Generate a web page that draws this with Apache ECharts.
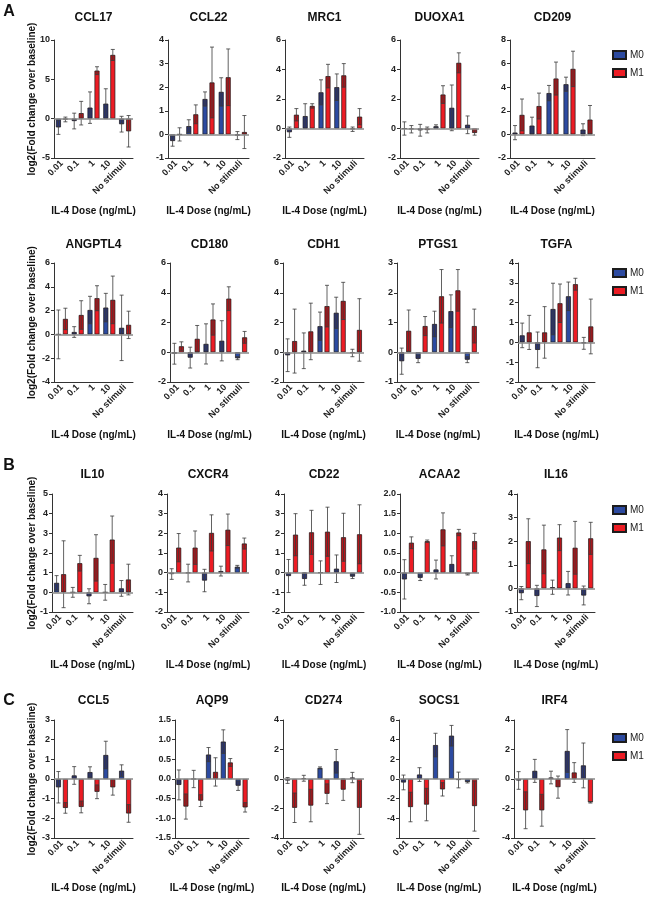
<!DOCTYPE html>
<html>
<head>
<meta charset="utf-8">
<script src="https://cdn.jsdelivr.net/npm/echarts@6/dist/echarts.min.js"></script>
<style>
html,body{margin:0;padding:0;background:#fff;}
#chart{width:648px;height:900px;}
</style>
</head>
<body>
<div id="chart"></div>
<script>
// ---------------- DATA ----------------
const categories = ['0.01', '0.1', '1', '10', 'No stimuli'];
const seriesNames = ['M0', 'M1'];
const genes = ['CCL17','CCL22','MRC1','DUOXA1','CD209',
               'ANGPTL4','CD180','CDH1','PTGS1','TGFA',
               'IL10','CXCR4','CD22','ACAA2','IL16',
               'CCL5','AQP9','CD274','SOCS1','IRF4'];
const panelLetters = ['A', 'B', 'C'];
const xAxisTitle = 'IL-4 Dose (ng/mL)';
const yAxisTitle = 'log2(Fold change over baseline)';

// y axis range per gene
const yMin  = [-5, -1, -2, -2, -2,  -4, -2, -2, -1, -2,  -1, -2, -2, -1, -1,  -3, -1.5, -4, -6, -4];
const yMax  = [10,  4,  6,  6,  8,   6,  6,  6,  3,  4,   5,  4,  4,  2,  4,   3,  1.5,  4,  6,  4];
const yStep = [ 5,  1,  2,  2,  2,   2,  2,  2,  1,  1,   1,  1,  1, 0.5, 1,  1,  0.5,  2,  2,  2];
const hideMinLabel = ['SOCS1'];

// M0 means (one row per gene, columns = categories)
const m0Mean = [
  [-1.1, -0.3, 1.4, 1.9, -0.7],    // CCL17
  [-0.28, 0.35, 1.5, 1.8, -0.05],  // CCL22
  [-0.25, 0.84, 2.45, 2.8, -0.05], // MRC1
  [0.0, -0.12, 0.15, 1.4, 0.25],   // DUOXA1
  [0.15, 0.74, 3.5, 4.25, 0.4],    // CD209
  [0.0, 0.2, 2.05, 2.25, 0.55],    // ANGPTL4
  [-0.1, -0.36, 0.56, 0.77, -0.4], // CD180
  [-0.2, 0.1, 1.75, 2.65, -0.05],  // CDH1
  [-0.3, -0.22, 0.95, 1.38, -0.25],// PTGS1
  [0.35, -0.38, 1.68, 2.32, -0.05],// TGFA
  [0.48, 0.0, -0.2, 0.0, 0.2],     // IL10
  [-0.07, -0.02, -0.4, 0.08, 0.3], // CXCR4
  [-0.17, -0.32, 0.0, 0.2, -0.2],  // CD22
  [-0.17, -0.13, 0.08, 0.22, -0.04],// ACAA2
  [-0.2, -0.32, 0.05, 0.22, -0.3], // IL16
  [-0.42, 0.18, 0.35, 1.22, 0.42], // CCL5
  [-0.15, 0.0, 0.62, 0.95, -0.17], // AQP9
  [-0.1, 0.05, 0.75, 1.2, 0.1],    // CD274
  [-0.35, 0.45, 3.45, 4.4, -0.3],  // SOCS1
  [-0.1, 0.55, 0.1, 1.9, 0.92]     // IRF4
];
const m0Sd = [
  [0.9, 1.0, 2.0, 1.9, 1.0],
  [0.22, 0.27, 0.3, 0.6, 0.17],
  [0.35, 0.84, 0.85, 0.9, 0.15],
  [0.45, 0.4, 0.1, 1.55, 0.6],
  [0.6, 0.72, 0.65, 0.6, 0.5],
  [2.05, 0.45, 1.15, 1.2, 2.75],
  [0.7, 0.7, 1.35, 1.35, 0.1],
  [1.1, 1.2, 0.95, 1.05, 0.25],
  [0.44, 0.13, 0.43, 0.55, 0.1],
  [0.62, 0.9, 1.3, 0.72, 0.3],
  [0.37, 0.25, 0.38, 0.4, 0.4],
  [0.27, 0.45, 0.57, 0.25, 0.07],
  [0.84, 0.32, 0.6, 0.7, 0.1],
  [0.5, 0.07, 0.24, 0.21, 0.02],
  [0.28, 0.45, 0.3, 0.5, 0.4],
  [0.8, 0.45, 0.27, 0.7, 0.3],
  [0.38, 0.22, 0.18, 0.3, 0.12],
  [0.2, 0.2, 0.07, 0.8, 0.35],
  [0.75, 0.7, 1.2, 1.05, 0.1],
  [0.6, 0.78, 0.43, 1.45, 1.52]
];
// M1 means
const m1Mean = [
  [-0.1, 0.7, 6.1, 8.1, -1.6],
  [0.0, 0.85, 2.2, 2.42, 0.1],
  [0.93, 1.53, 3.55, 3.6, 0.8],
  [-0.05, -0.1, 2.3, 4.45, -0.3],
  [1.65, 2.4, 4.73, 5.55, 1.25],
  [1.3, 1.63, 3.04, 2.9, 0.8],
  [0.4, 0.9, 2.2, 3.6, 1.0],
  [0.75, 1.4, 3.1, 3.45, 1.5],
  [0.72, 0.88, 1.88, 2.08, 0.88],
  [0.5, 0.5, 1.97, 2.93, 0.8],
  [0.92, 1.48, 1.75, 2.68, 0.65],
  [1.27, 1.27, 2.02, 2.18, 1.48],
  [1.93, 2.05, 2.08, 1.8, 1.95],
  [0.76, 0.8, 1.1, 1.02, 0.8],
  [2.0, 1.65, 2.15, 1.72, 2.12],
  [-1.47, -1.42, -0.65, -0.42, -1.75],
  [-0.7, -0.55, 0.18, 0.42, -0.72],
  [-1.95, -1.8, -1.0, -0.72, -1.95],
  [-2.85, -2.6, -1.05, -0.1, -2.75],
  [-2.12, -2.12, -0.55, 0.44, -1.58]
];
const m1Sd = [
  [0.3, 1.5, 0.5, 0.7, 2.0],
  [0.28, 0.4, 1.5, 1.2, 0.7],
  [0.42, 0.15, 0.8, 0.8, 0.55],
  [0.25, 0.2, 0.6, 0.68, 0.15],
  [1.35, 1.1, 1.4, 1.5, 1.2],
  [0.9, 1.2, 1.05, 2.0, 1.15],
  [0.3, 0.9, 1.05, 0.8, 0.4],
  [2.15, 1.9, 1.4, 1.25, 2.1],
  [0.7, 0.32, 0.9, 0.7, 0.57],
  [0.86, 1.3, 0.97, 0.3, 1.38],
  [1.7, 0.4, 1.18, 1.2, 0.78],
  [0.72, 0.85, 0.92, 0.8, 0.28],
  [1.07, 1.12, 1.25, 1.22, 1.5],
  [0.15, 0.03, 0.42, 0.08, 0.2],
  [0.95, 1.03, 0.55, 1.12, 0.68],
  [0.27, 0.3, 0.35, 0.4, 0.45],
  [0.32, 0.15, 0.36, 0.1, 0.12],
  [1.0, 1.1, 0.67, 0.73, 1.8],
  [1.5, 1.65, 0.68, 0.8, 2.55],
  [1.25, 1.08, 0.75, 0.67, 0.05]
];

// ---------------- LAYOUT / STYLE ----------------
const FONT = '"Liberation Sans", Arial, Helvetica, sans-serif';
const COLORS = ['#2c4aa0', '#ec1c24'];
const rowTop = [40, 263, 494, 720];
const rowBottom = [158, 382, 612, 838];
const rowTitleY = [18, 245, 475, 701];
const rowDoseGap = [53, 53, 53, 50];
const colLefts = [
  [54, 168, 285, 400, 510],
  [54, 170, 283, 397, 518],
  [52, 167, 284, 400, 517],
  [54, 175, 283, 399, 514]
];
const colRights = [133, 249, 364, 479, 595];
const legendTop = [50, 268, 505, 733];
const letterPos = [[0, 12], [1, 466], [3, 701]]; // [row, y]
const BAR_W = 5, BAR_GAP = 2;

const chart = echarts.init(document.getElementById('chart'), null, {renderer: 'canvas'});

const grids = [], xAxes = [], yAxes = [], series = [], graphics = [];

function errRenderer(offset) {
  return function (params, api) {
    const i = api.value(0);
    const mean = api.value(1);
    const sd = api.value(2);
    const c = api.coord([i, mean]);
    const hi = api.coord([i, mean + sd]);
    const lo = api.coord([i, mean - sd]);
    const x = c[0] + offset;
    const shadeEnd = mean >= 0 ? Math.max(mean - sd, 0) : Math.min(mean + sd, 0);
    const s = api.coord([i, shadeEnd]);
    const y1 = Math.min(c[1], s[1]), y2 = Math.max(c[1], s[1]);
    const lineStyle = {stroke: '#3a3a3a', lineWidth: 0.8};
    return {
      type: 'group',
      children: [
        {type: 'rect', shape: {x: x - BAR_W / 2 + 0.4, y: y1, width: BAR_W - 0.8, height: y2 - y1},
          style: {fill: 'rgba(40,0,0,0.28)'}},
        {type: 'line', shape: {x1: x, y1: hi[1], x2: x, y2: lo[1]}, style: lineStyle},
        {type: 'line', shape: {x1: x - 2, y1: hi[1], x2: x + 2, y2: hi[1]}, style: lineStyle},
        {type: 'line', shape: {x1: x - 2, y1: lo[1], x2: x + 2, y2: lo[1]}, style: lineStyle}
      ]
    };
  };
}

genes.forEach(function (gene, g) {
  const r = Math.floor(g / 5), c = g % 5;
  const left = colLefts[r][c], right = colRights[c];
  const top = rowTop[r], bottom = rowBottom[r];
  grids.push({left: left, top: top, width: right - left, height: bottom - top, containLabel: false});
  xAxes.push({
    type: 'category', gridIndex: g, data: categories,
    axisLine: {onZero: false, lineStyle: {color: '#333', width: 1}},
    axisTick: {alignWithLabel: true, length: 3, lineStyle: {color: '#333'}},
    axisLabel: {rotate: 45, interval: 0, fontSize: 9, fontWeight: 'bold', color: '#222', margin: 4, fontFamily: FONT},
    splitLine: {show: false}
  });
  const step = yStep[g];
  const minV = yMin[g];
  const hideMin = hideMinLabel.indexOf(gene) >= 0;
  yAxes.push({
    type: 'value', gridIndex: g, min: minV, max: yMax[g], interval: step,
    axisLine: {show: true, lineStyle: {color: '#333', width: 1}},
    axisTick: {show: true, length: 3, lineStyle: {color: '#333'}},
    splitLine: {show: false},
    axisLabel: {
      fontSize: 9, fontWeight: 'bold', color: '#222', margin: 4, fontFamily: FONT,
      formatter: function (v) {
        if (hideMin && Math.abs(v - minV) < 1e-9) return '';
        return step < 1 ? v.toFixed(1) : String(Math.round(v));
      }
    }
  });
  const means = [m0Mean[g], m1Mean[g]];
  const sds = [m0Sd[g], m1Sd[g]];
  const offsets = [-(BAR_W + BAR_GAP) / 2, (BAR_W + BAR_GAP) / 2];
  seriesNames.forEach(function (name, k) {
    const s = {
      type: 'bar', name: name, xAxisIndex: g, yAxisIndex: g,
      data: means[k], barWidth: BAR_W, barGap: (BAR_GAP / BAR_W * 100) + '%',
      itemStyle: {color: COLORS[k], borderColor: '#1c1c1c', borderWidth: 0.7},
      silent: true, z: 2
    };
    if (k === 0) {
      s.markLine = {silent: true, symbol: 'none', label: {show: false},
        lineStyle: {color: '#8a8a8a', width: 1.5, type: 'solid'},
        data: [{yAxis: 0}], animation: false};
    }
    series.push(s);
  });
  seriesNames.forEach(function (name, k) {
    series.push({
      type: 'custom', xAxisIndex: g, yAxisIndex: g, z: 4, silent: true,
      renderItem: errRenderer(offsets[k]),
      data: means[k].map(function (m, i) { return [i, m, sds[k][i]]; })
    });
  });
  const cx = (left + right) / 2;
  graphics.push({type: 'text', x: cx, y: rowTitleY[r], silent: true,
    style: {text: gene, font: 'bold 12px ' + FONT, fill: '#111', align: 'center', verticalAlign: 'middle', textAlign: 'center', textVerticalAlign: 'middle'}});
  graphics.push({type: 'text', x: cx, y: bottom + rowDoseGap[r], silent: true,
    style: {text: xAxisTitle, font: 'bold 10px ' + FONT, fill: '#111', align: 'center', verticalAlign: 'middle', textAlign: 'center', textVerticalAlign: 'middle'}});
});

for (let r = 0; r < 4; r++) {
  graphics.push({type: 'text', x: 32, y: (rowTop[r] + rowBottom[r]) / 2, rotation: Math.PI / 2, silent: true,
    style: {text: yAxisTitle, font: 'bold 10px ' + FONT, fill: '#111', align: 'center', verticalAlign: 'middle', textAlign: 'center', textVerticalAlign: 'middle'}});
}
letterPos.forEach(function (p, i) {
  graphics.push({type: 'text', x: 9, y: p[1], silent: true,
    style: {text: panelLetters[i], font: 'bold 16px ' + FONT, fill: '#111', align: 'center', verticalAlign: 'middle', textAlign: 'center', textVerticalAlign: 'middle'}});
});

const legends = legendTop.map(function (t) {
  return {data: seriesNames, orient: 'vertical', left: 612, top: t, icon: 'rect', padding: 0,
    itemWidth: 13, itemHeight: 8, itemGap: 8, selectedMode: false,
    textStyle: {fontSize: 10, color: '#222', fontFamily: FONT, padding: [0, 0, 0, -1]}};
});

chart.setOption({
  animation: false,
  backgroundColor: '#fff',
  grid: grids, xAxis: xAxes, yAxis: yAxes, series: series,
  legend: legends, graphic: graphics
});
</script>
</body>
</html>
